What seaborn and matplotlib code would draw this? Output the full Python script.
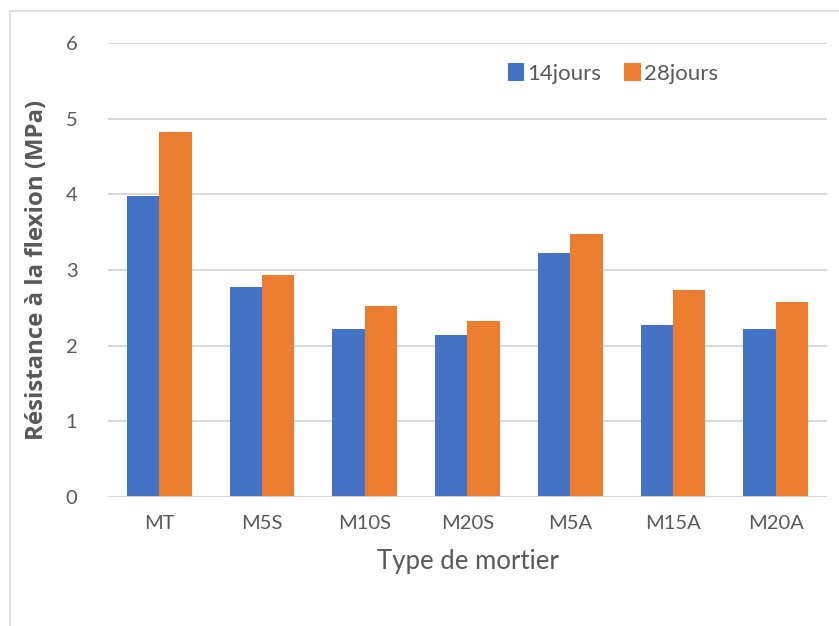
import pandas as pd
import numpy as np
import matplotlib
matplotlib.use('Agg')
import matplotlib.pyplot as plt
import seaborn as sns
from matplotlib.lines import Line2D

# data
mortiers = ['MT', 'M5S', 'M10S', 'M20S', 'M5A', 'M15A', 'M20A']
jours14 = [3.98, 2.78, 2.22, 2.14, 3.22, 2.27, 2.22]
jours28 = [4.83, 2.93, 2.53, 2.33, 3.48, 2.73, 2.58]
series = ['14jours', '28jours']

df = pd.DataFrame({'Mortier': mortiers * 2,
                   'Age': [series[0]] * len(mortiers) + [series[1]] * len(mortiers),
                   'Resistance': jours14 + jours28})

sns.set_theme(style='white')
plt.rcParams['font.family'] = ['Lato', 'DejaVu Sans']

txt = '#595959'
grid = '#D9D9D9'

fig = plt.figure(figsize=(8.39, 6.26), dpi=100)
ax = fig.add_axes([0.1287, 0.206, 0.857, 0.7253])

sns.barplot(data=df, x='Mortier', y='Resistance', hue='Age',
            palette=['#4472C4', '#ED7D31'], width=0.63, gap=0,
            saturation=1, linewidth=0, ax=ax, zorder=2)

ax.set_ylim(0, 6)
ax.set_yticks(range(0, 7))
ax.yaxis.grid(True, color=grid, lw=1.5, zorder=0)
ax.axhline(0, color=grid, lw=2, zorder=3)
ax.set_axisbelow(True)
for s in ax.spines.values():
    s.set_visible(False)
ax.tick_params(axis='both', length=0, labelsize=14.5, colors=txt)
ax.tick_params(axis='y', pad=22)
ax.tick_params(axis='x', pad=13)

ax.set_xlabel('Type de mortier', fontsize=18.5, color=txt, labelpad=12)
ax.set_ylabel('Résistance à la flexion (MPa)', fontsize=17.3, color=txt,
              fontweight='bold', family=['Open Sans', 'DejaVu Sans'], labelpad=12)

leg = ax.legend(loc='upper left', bbox_to_anchor=(0.528, 1.0), ncol=2,
                frameon=False, fontsize=16, handlelength=0.75, handleheight=0.9,
                handletextpad=0.15, columnspacing=1.0)
for t in leg.get_texts():
    t.set_color(txt)

# chart frame (left and top only visible)
fig.add_artist(Line2D([10 / 839, 10 / 839], [0, 1 - 11 / 626], color=grid, lw=1.2))
fig.add_artist(Line2D([10 / 839, 1], [1 - 11 / 626, 1 - 11 / 626], color=grid, lw=1.2))

fig.savefig('out.png', dpi=100)
